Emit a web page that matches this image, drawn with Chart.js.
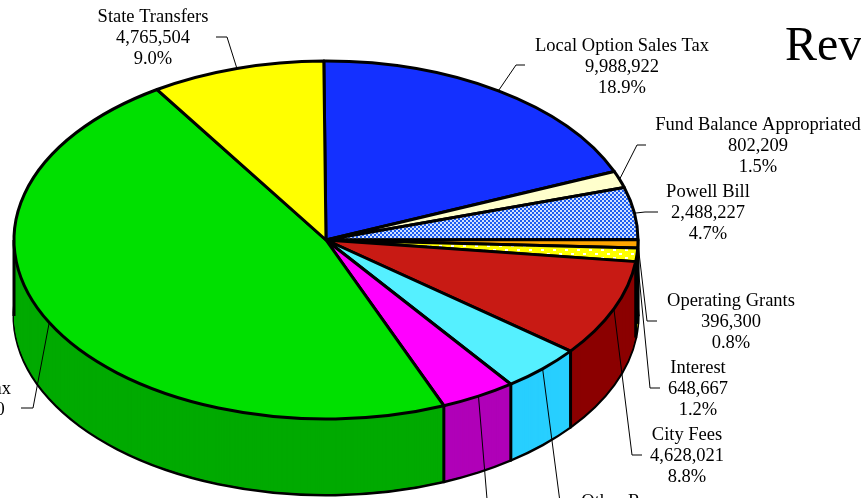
<!DOCTYPE html>
<html>
<head>
<meta charset="utf-8">
<style>
  html, body { margin: 0; padding: 0; background: #fff; overflow: hidden; }
  canvas { display: block; }
</style>
<script src="https://cdn.jsdelivr.net/npm/chart.js@4"></script>
</head>
<body>
<canvas id="revenuePie" width="861" height="498"></canvas>
<script>
// Data, clockwise from the top of the pie
const names = ["Local Option Sales Tax", "Fund Balance Appropriated", "Powell Bill", "Operating Grants", "Interest", "City Fees", "Other Revenue", "Miscellaneous", "Property Tax", "State Transfers"];
const amounts = [9988922, 802209, 2488227, 396300, 648667, 4628021, 2250000, 2080000, 24930120, 4765504];
const amountLabels = ["9,988,922", "802,209", "2,488,227", "396,300", "648,667", "4,628,021", "2,250,000", "2,080,000", "24,930,120", "4,765,504"];
const percentLabels = ["18.9%", "1.5%", "4.7%", "0.8%", "1.2%", "8.8%", "4.2%", "3.9%", "47.1%", "9.0%"];

// Look of the 3D pie
const CX = 326, CY = 240, RX = 312, RY = 179, DEPTH = 76;
const sideColors = ["#0f20c0", "#c0c090", "#3050a0", "#b07000", "#b0b000", "#8b0000", "#28cfff", "#b000b8", "#00aa00", "#c0c000"];

// label anchor [centre x, first line y], leader elbow [x, y], leader end x
const labelPos = [[622, 46], [758, 125], [708, 192], [731, 301], [698, 368], [687, 435], [637, 502], [520, 530], [-37, 389], [153, 17]];
const elbows = [[516, 65], [637, 145], [645, 212], [647, 321], [650, 388], [632, 455], [563, 525], [490, 535], [33, 408], [227, 37]];
const leaderEnds = [525, 646, 658, 657, 660, 642, 572, 500, 21, 216];

function makeChecker() {
  const c = document.createElement("canvas");
  c.width = 4; c.height = 4;
  const g = c.getContext("2d");
  g.fillStyle = "#cfe0ff";
  g.fillRect(0, 0, 4, 4);
  g.fillStyle = "#1c5cf0";
  g.fillRect(0, 0, 2, 2);
  g.fillRect(2, 2, 2, 2);
  return g.createPattern(c, "repeat");
}

function makeDots() {
  const c = document.createElement("canvas");
  c.width = 12; c.height = 8;
  const g = c.getContext("2d");
  g.fillStyle = "#ffff00";
  g.fillRect(0, 0, 12, 8);
  g.fillStyle = "#fff";
  g.fillRect(1, 1, 3, 2);
  g.fillRect(7, 5, 3, 2);
  return g.createPattern(c, "repeat");
}

const topColors = ["#1430ff", "#ffffcc", makeChecker(), "#ffa500", makeDots(), "#c81a14", "#55f0ff", "#ff00ff", "#00e000", "#ffff00"];

// Chart.js only draws round pies, so the arcs are squashed into an ellipse here.
// fill and stroke run without the transform so lines and patterns keep their shape.
function squash(ctx, arc, dy) {
  const sx = RX / arc.outerRadius, sy = RY / arc.outerRadius;
  ctx.setTransform(sx, 0, 0, sy, CX - sx * arc.x, CY + dy - sy * arc.y);
}

function patchPaint(ctx) {
  ["fill", "stroke"].forEach((fn) => {
    const orig = CanvasRenderingContext2D.prototype[fn];
    ctx[fn] = function (...args) {
      const t = ctx.getTransform();
      ctx.setTransform(1, 0, 0, 1, 0, 0);
      orig.apply(ctx, args);
      ctx.setTransform(t);
    };
  });
}

const pie3d = {
  id: "pie3d",
  beforeDatasetsDraw(chart) {
    const ctx = chart.ctx;
    const arcs = chart.getDatasetMeta(0).data;
    ctx.save();
    patchPaint(ctx);

    // wall: the same arcs stacked from the bottom rim up
    for (let dy = DEPTH; dy > 0; dy--) {
      squash(ctx, arcs[0], dy);
      arcs.forEach((arc, i) => {
        const saved = arc.options;
        arc.options = Object.assign({}, saved, {
          backgroundColor: sideColors[i],
          borderColor: "#000",
          borderWidth: dy === DEPTH ? 3 : 0
        });
        arc.draw(ctx);
        arc.options = saved;
      });
    }

    // vertical edges of the wall
    ctx.setTransform(1, 0, 0, 1, 0, 0);
    ctx.strokeStyle = "#000";
    ctx.lineWidth = 3;
    const edges = arcs.map((a) => a.startAngle).concat([0, Math.PI]);
    edges.forEach((a) => {
      if (Math.sin(a) < -1e-6) return;
      const x = CX + RX * Math.cos(a), y = CY + RY * Math.sin(a);
      ctx.beginPath();
      ctx.moveTo(x, y);
      ctx.lineTo(x, y + DEPTH);
      ctx.stroke();
    });

    squash(ctx, arcs[0], 0);
  },
  afterDatasetsDraw(chart) {
    const ctx = chart.ctx;
    delete ctx.fill;
    delete ctx.stroke;
    ctx.restore();

    const arcs = chart.getDatasetMeta(0).data;

    // leader lines from the rim of each slice
    ctx.save();
    ctx.strokeStyle = "#000";
    ctx.lineWidth = 1;
    arcs.forEach((arc, i) => {
      const mid = (arc.startAngle + arc.endAngle) / 2;
      ctx.beginPath();
      ctx.moveTo(CX + RX * Math.cos(mid), CY + RY * Math.sin(mid));
      ctx.lineTo(elbows[i][0], elbows[i][1]);
      ctx.lineTo(leaderEnds[i], elbows[i][1]);
      ctx.stroke();
    });

    // labels
    ctx.fillStyle = "#000";
    ctx.font = '18.5px "Liberation Serif"';
    ctx.textAlign = "center";
    ctx.textBaseline = "middle";
    names.forEach((name, i) => {
      const [x, y] = labelPos[i];
      ctx.fillText(name, x, y);
      ctx.fillText(amountLabels[i], x, y + 21);
      ctx.fillText(percentLabels[i], x, y + 42);
    });

    ctx.font = '48px "Liberation Serif"';
    ctx.textAlign = "left";
    ctx.textBaseline = "alphabetic";
    ctx.fillText("Revenues", 785, 60);
    ctx.restore();
  }
};

new Chart(document.getElementById("revenuePie").getContext("2d"), {
  type: "pie",
  data: {
    labels: names,
    datasets: [{
      data: amounts,
      backgroundColor: topColors,
      borderColor: "#000",
      borderWidth: 3,
      borderJoinStyle: "round",
      clip: false
    }]
  },
  options: {
    responsive: false,
    animation: false,
    devicePixelRatio: 1,
    rotation: -0.4,
    layout: { padding: 0 },
    plugins: { legend: { display: false }, tooltip: { enabled: false } }
  },
  plugins: [pie3d]
});
</script>
</body>
</html>
